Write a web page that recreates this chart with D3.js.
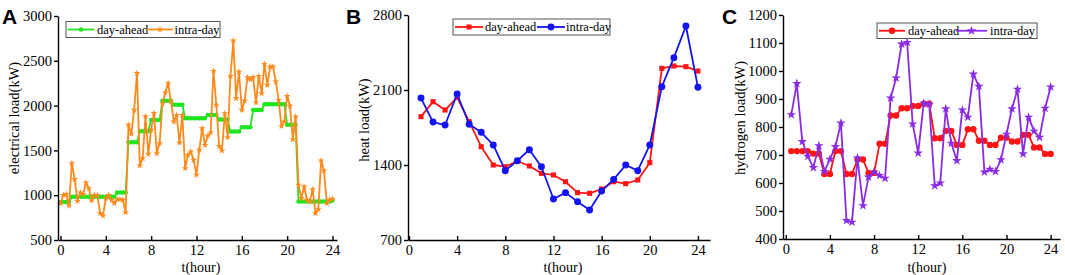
<!DOCTYPE html>
<html><head><meta charset="utf-8">
<script src="https://cdn.jsdelivr.net/npm/d3@7"></script>
<style>
body{margin:0;background:#fff}
svg{display:block}
text{font-family:"Liberation Serif","Times New Roman",serif;fill:#000}
text.letter{font-family:"Liberation Sans",Arial,sans-serif;font-weight:bold}
</style>
</head><body>
<svg id="c" width="1065" height="275"></svg>
<script>
// ---------- data ----------
const xTicks = [0, 4, 8, 12, 16, 20, 24];

// Panel A: electrical load, 15-minute resolution
const timeA = d3.range(0, 24.001, 0.25);
const elecDayAhead = [
  925, 925, 925, 925,
  983, 983, 983, 983, 983, 983, 983, 983, 983, 983, 983, 983, 983, 983, 983, 983,
  1030, 1030, 1030, 1030,
  1590, 1590, 1590, 1590,
  1715, 1715, 1715, 1715,
  1840, 1840, 1840, 1840,
  2055, 2055, 2055, 2055,
  2010, 2010, 2010, 2010,
  1860, 1860, 1860, 1860, 1860, 1860, 1860, 1860,
  1895, 1895, 1895, 1895,
  1845, 1845, 1845, 1845,
  1710, 1710, 1710, 1710,
  1758, 1758, 1758, 1758,
  1950, 1950, 1950, 1950,
  2015, 2015, 2015, 2015, 2015, 2015, 2015, 2015,
  1785, 1785, 1785, 1785,
  930, 930, 930, 930, 930, 930, 930, 930, 930, 930, 930, 930,
  940
];
const elecIntraDay = [
  910, 1002, 1013, 883, 1356, 1178, 935, 1028, 1013, 1140, 1077, 939,
  1002, 1000, 798, 771, 966, 1002, 947, 910, 954, 954, 947, 809,
  1784, 1684, 1951, 2361, 1330, 1411, 1880, 1460, 1728, 1917, 1468, 1579,
  2026, 2144, 2249, 2044, 1820, 1895, 1586, 1895, 1300, 1449, 1486, 1393,
  1226, 1505, 1747, 1560, 1661, 1698, 2386, 2007, 1549, 1497, 1914, 1646,
  2330, 2724, 2082, 2379, 1951, 2055, 2315, 2293, 2315, 2033, 2330, 2137,
  2464, 2230, 2435, 2435, 2267, 2062, 1772, 1820, 2107, 1996, 1624, 1877,
  1114, 966, 1095, 947, 928, 1066, 798, 843, 1386, 1274, 910, 947,
  960
];
const yTicksA = [500, 1000, 1500, 2000, 2500, 3000];

// Panel B: heat load, hourly
const hoursB = [1,2,3,4,5,6,7,8,9,10,11,12,13,14,15,16,17,18,19,20,21,22,23,24];
const heatDayAhead = [1851, 1991, 1913, 2032, 1804, 1571, 1400, 1384, 1437, 1391, 1322, 1307,
                      1244, 1142, 1136, 1176, 1244, 1226, 1260, 1422, 2302, 2324, 2318, 2277];
const heatIntraDay = [2025, 1801, 1773, 2063, 1780, 1705, 1587, 1347, 1440, 1543, 1384, 1083,
                      1142, 1058, 980, 1157, 1266, 1400, 1347, 1587, 2131, 2402, 2697, 2125];
const yTicksB = [700, 1400, 2100, 2800];

// Panel C: hydrogen load, half-hourly
const timeC = d3.range(0.5, 24.001, 0.5);
const h2DayAhead = [714, 714, 714, 714, 705, 705, 632, 632, 714, 714, 632, 632,
                    684, 684, 636, 636, 740, 740, 841, 841, 867, 867, 875, 875,
                    883, 883, 760, 760, 786, 786, 736, 736, 792, 792, 751, 751,
                    736, 736, 762, 762, 748, 748, 772, 772, 727, 727, 704, 704];
const h2IntraDay = [844, 955, 748, 695, 655, 733, 641, 685, 730, 814, 466, 460,
                    689, 519, 621, 639, 627, 617, 903, 975, 1096, 1102, 811, 707,
                    885, 881, 590, 600, 865, 742, 680, 861, 835, 989, 945, 639,
                    649, 641, 683, 774, 865, 935, 704, 835, 785, 763, 867, 943];
const yTicksC = [400, 500, 600, 700, 800, 900, 1000, 1100, 1200];

const seriesNames = ["day-ahead", "intra-day"];

// ---------- layout / style ----------
const panels = [
  {
    letter: "A", letterX: 2,
    xDomain: [-0.22, 24.4], xRange: [58, 337],
    yDomain: [500, 3000], yRange: [240, 16], yTicks: yTicksA,
    yTitle: "electrical load(kW)", yTitleX: 14, yTitleY: 118, xTitleX: 201,
    series: [
      {t: timeA, v: elecDayAhead, color: "#1ee61e", sym: d3.symbolCircle, size: 16},
      {t: timeA, v: elecIntraDay, color: "#ff8a1c", sym: d3.symbolStar, size: 15}
    ],
    legend: {x: 66, y: 21.5, w: 154, h: 16,
      items: [{x0: 67.5, x1: 94.5, tx: 97}, {x0: 147, x1: 173, tx: 174.5}]}
  },
  {
    letter: "B", letterX: 346,
    xDomain: [-0.08, 25.0], xRange: [408, 710],
    yDomain: [700, 2800], yRange: [240, 15], yTicks: yTicksB,
    yTitle: "heat load(kW)", yTitleX: 364, yTitleY: 120, xTitleX: 563,
    series: [
      {t: hoursB, v: heatDayAhead, color: "#ff1414", sym: d3.symbolSquare, size: 26},
      {t: hoursB, v: heatIntraDay, color: "#1414f0", sym: d3.symbolCircle, size: 38}
    ],
    legend: {x: 453, y: 19, w: 157, h: 16,
      items: [{x0: 455, x1: 483, tx: 485}, {x0: 537, x1: 565, tx: 566}]}
  },
  {
    letter: "C", letterX: 722,
    xDomain: [-0.25, 24.85], xRange: [783, 1060],
    yDomain: [400, 1200], yRange: [239, 15], yTicks: yTicksC,
    yTitle: "hydrogen load(kW)", yTitleX: 740, yTitleY: 118, xTitleX: 927,
    series: [
      {t: timeC, v: h2DayAhead, color: "#ff1414", sym: d3.symbolCircle, size: 32},
      {t: timeC, v: h2IntraDay, color: "#8a2be6", sym: d3.symbolStar, size: 28}
    ],
    legend: {x: 877, y: 23, w: 160, h: 15.5,
      items: [{x0: 879, x1: 905, tx: 908}, {x0: 956, x1: 987, tx: 990}]}
  }
];

const svg = d3.select("#c");

panels.forEach(p => {
  const g = svg.append("g");
  const x = d3.scaleLinear().domain(p.xDomain).range(p.xRange);
  const y = d3.scaleLinear().domain(p.yDomain).range(p.yRange);

  // series
  p.series.forEach(s => {
    const pts = s.t.map((t, i) => [t, s.v[i]]);
    g.append("path")
      .datum(pts)
      .attr("fill", "none")
      .attr("stroke", s.color)
      .attr("stroke-width", 1.8)
      .attr("stroke-linejoin", "round")
      .attr("d", d3.line().x(d => x(d[0])).y(d => y(d[1])));
    g.append("g").selectAll("path")
      .data(pts).join("path")
      .attr("transform", d => `translate(${x(d[0])},${y(d[1])})`)
      .attr("d", d3.symbol().type(s.sym).size(s.size))
      .attr("fill", s.color);
  });

  // axes
  const xAxis = g.append("g")
    .attr("transform", `translate(0,${p.yRange[0]})`)
    .call(d3.axisBottom(x).tickValues(xTicks).tickSizeInner(-4).tickSizeOuter(0).tickPadding(5));
  const yAxis = g.append("g")
    .attr("transform", `translate(${p.xRange[0]},0)`)
    .call(d3.axisLeft(y).tickValues(p.yTicks).tickSizeInner(4).tickSizeOuter(0).tickPadding(2).tickFormat(d3.format("d")));
  [xAxis, yAxis].forEach(a => {
    a.selectAll("path, line").attr("stroke", "#000").attr("stroke-width", 1.4);
    a.selectAll("text").attr("font-size", 14.5).style("font-family", "'Liberation Serif', serif").attr("fill", "#000");
  });

  // titles
  g.append("text")
    .attr("x", p.xTitleX).attr("y", 271.5)
    .attr("text-anchor", "middle").attr("font-size", 14)
    .text("t(hour)");
  g.append("text")
    .attr("transform", `translate(${p.yTitleX + 5},${p.yTitleY}) rotate(-90)`)
    .attr("text-anchor", "middle").attr("font-size", 14.5)
    .text(p.yTitle);
  g.append("text")
    .attr("class", "letter")
    .attr("x", p.letterX).attr("y", 24)
    .attr("font-size", 21)
    .text(p.letter);

  // legend
  const L = p.legend;
  const lg = g.append("g");
  lg.append("rect")
    .attr("x", L.x).attr("y", L.y).attr("width", L.w).attr("height", L.h)
    .attr("fill", "#fff").attr("stroke", "#555").attr("stroke-width", 1);
  const cy = L.y + L.h / 2;
  L.items.forEach((it, i) => {
    const s = p.series[i];
    lg.append("line")
      .attr("x1", it.x0).attr("x2", it.x1).attr("y1", cy).attr("y2", cy)
      .attr("stroke", s.color).attr("stroke-width", 1.8);
    lg.append("path")
      .attr("transform", `translate(${(it.x0 + it.x1) / 2},${cy})`)
      .attr("d", d3.symbol().type(s.sym).size(s.size))
      .attr("fill", s.color);
    lg.append("text")
      .attr("x", it.tx).attr("y", cy + 4.3)
      .attr("font-size", 12.5)
      .text(seriesNames[i]);
  });
});
</script>
</body></html>
